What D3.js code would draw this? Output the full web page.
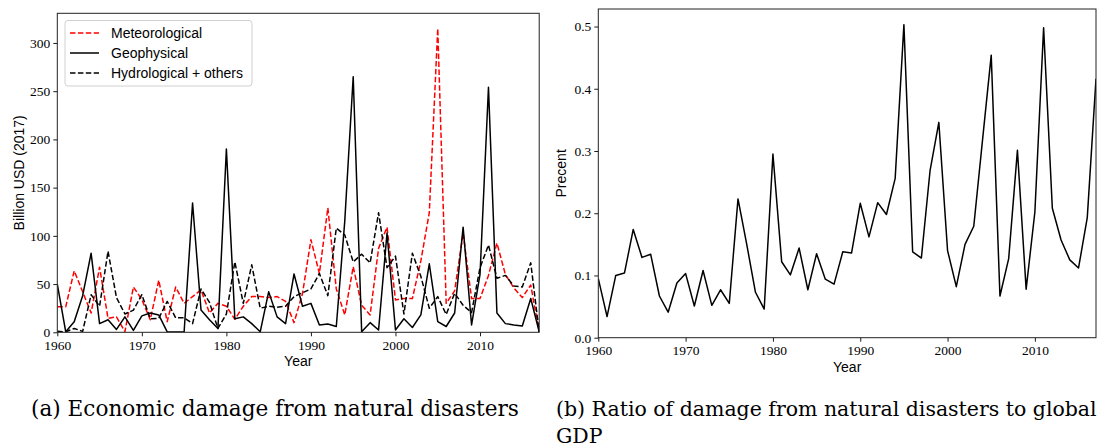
<!DOCTYPE html>
<html>
<head>
<meta charset="utf-8">
<script src="https://cdn.jsdelivr.net/npm/d3@7/dist/d3.min.js"></script>
<style>
  html, body { margin: 0; padding: 0; background: #fff; }
  svg { display: block; }
  .label { font-family: "Liberation Sans", Arial, sans-serif; font-size: 14px; fill: #000; }
  .caption { font-family: "DejaVu Serif", serif; font-size: 20px; fill: #000; }
</style>
</head>
<body>
<svg id="fig" width="1103" height="447"></svg>
<script>
// Annual economic damage by disaster type, billion USD (2017)
const years = d3.range(1960, 2018);
const meteorological = [26.6, 26.6, 63.7, 42, 20, 67.5, 14.5, 16, 0.6, 47,
  34, 13, 54, 11, 47, 30, 37, 44, 20, 30,
  27, 13.5, 27, 37, 37, 36, 37, 32, 10, 40,
  96, 61, 129, 45, 18, 68, 28, 18, 87, 109,
  33.6, 35, 35, 74, 124, 315, 30, 43, 103, 35,
  35, 59, 92.5, 60, 46, 36, 49, 0];
const geophysical = [50, 0.5, 11, 38, 82, 9, 13, 3, 16, 2,
  17, 20, 18, 0.5, 0.3, 0.3, 134, 23, 13, 4,
  190, 14, 16, 9, 0.5, 42, 16, 9, 60.5, 27,
  30, 7.6, 8.6, 6, 115, 265, 0.6, 10, 2.4, 103,
  2.4, 14, 5, 18, 71, 11, 6, 20, 109, 7.6,
  60, 254, 20, 9, 7.6, 6.5, 35, 0.5];
const hydrological = [1, 0.5, 4, 1, 39, 27, 84, 36, 19, 23,
  39, 14, 14.5, 32, 15, 15, 9, 45, 31, 4,
  19, 73, 30, 70, 25, 27, 26, 27, 37, 41,
  45, 61, 38, 108, 101, 73, 81, 72, 124, 67,
  79, 19, 82, 58, 25, 37, 18.5, 40.5, 28, 20.5,
  67, 90.5, 56, 59, 48, 47, 72, 0];
// Damage as a share of global GDP, percent
const gdpRatio = [0.095, 0.034, 0.100, 0.104, 0.174, 0.129, 0.134, 0.067, 0.041, 0.088,
  0.103, 0.051, 0.108, 0.052, 0.077, 0.055, 0.223, 0.150, 0.073, 0.046,
  0.295, 0.122, 0.101, 0.144, 0.077, 0.135, 0.094, 0.086, 0.138, 0.136,
  0.216, 0.162, 0.217, 0.198, 0.256, 0.503, 0.138, 0.128, 0.269, 0.346,
  0.140, 0.082, 0.150, 0.179, 0.317, 0.454, 0.067, 0.127, 0.301, 0.078,
  0.202, 0.498, 0.208, 0.157, 0.125, 0.112, 0.193, 0.416];

const yearTicks = [1960, 1970, 1980, 1990, 2000, 2010];
const damageTicks = [0, 50, 100, 150, 200, 250, 300];
const ratioTicks = [0, 0.1, 0.2, 0.3, 0.4, 0.5];

const seriesA = [
  { name: "Meteorological", values: meteorological, color: "#ff0000", dash: "5.5,2.4" },
  { name: "Geophysical", values: geophysical, color: "#000000", dash: null },
  { name: "Hydrological + others", values: hydrological, color: "#000000", dash: "5.5,2.4" }
];

const svg = d3.select("#fig");

function panel(box, yMax, yTicks, yFmt, yLabel, labelX) {
  const x = d3.scaleLinear().domain([1960, 2017]).range([box.left, box.right]);
  const y = d3.scaleLinear().domain([0, yMax]).range([box.bottom, box.top]);
  const g = svg.append("g");

  g.append("g")
    .attr("transform", `translate(0,${box.bottom})`)
    .call(d3.axisBottom(x).tickValues(yearTicks).tickFormat(d3.format("d")).tickSize(4).tickPadding(4))
    .call(a => a.select(".domain").remove());
  g.append("g")
    .attr("transform", `translate(${box.left},0)`)
    .call(d3.axisLeft(y).tickValues(yTicks).tickFormat(yFmt).tickSize(4).tickPadding(3))
    .call(a => a.select(".domain").remove());
  g.selectAll(".tick line").attr("stroke", "#000").attr("stroke-width", 0.9);
  g.selectAll(".tick text")
    .style("font-family", '"Liberation Serif", serif').style("font-size", "13.5px").attr("fill", "#000");

  g.append("text").attr("class", "label")
    .attr("x", (box.left + box.right) / 2).attr("y", box.bottom + 34)
    .attr("text-anchor", "middle").text("Year");
  g.append("text").attr("class", "label")
    .attr("transform", `translate(${labelX},${(box.top + box.bottom) / 2}) rotate(-90)`)
    .attr("text-anchor", "middle").attr("dy", "0.35em").text(yLabel);

  const clipId = "clip" + Math.round(box.left);
  svg.append("clipPath").attr("id", clipId).append("rect")
    .attr("x", box.left).attr("y", box.top)
    .attr("width", box.right - box.left).attr("height", box.bottom - box.top);
  const plot = g.append("g").attr("clip-path", `url(#${clipId})`);

  g.append("rect")
    .attr("x", box.left).attr("y", box.top)
    .attr("width", box.right - box.left).attr("height", box.bottom - box.top)
    .attr("fill", "none").attr("stroke", "#222").attr("stroke-width", 1);
  return { x, y, g, plot };
}

// (a) damage by disaster type
const boxA = { left: 57.3, right: 539.2, top: 13.3, bottom: 332.3 };
const yMaxA = d3.max(seriesA, s => d3.max(s.values)) * 1.05;
const pA = panel(boxA, yMaxA, damageTicks, d3.format("d"), "Billion USD (2017)", 19);
const lineA = d3.line().x((d, i) => pA.x(years[i])).y(d => pA.y(d));
seriesA.forEach(s => {
  pA.plot.append("path").datum(s.values)
    .attr("d", lineA).attr("fill", "none")
    .attr("stroke", s.color).attr("stroke-width", 1.5)
    .attr("stroke-dasharray", s.dash)
    .attr("stroke-linejoin", "round");
});

// legend
const lg = pA.g.append("g");
lg.append("rect").attr("x", 65).attr("y", 20.5).attr("width", 187).attr("height", 65.5)
  .attr("rx", 3).attr("fill", "#fff").attr("fill-opacity", 0.8)
  .attr("stroke", "#d0d0d0").attr("stroke-width", 1);
seriesA.forEach((s, i) => {
  const yy = 33 + i * 20;
  lg.append("line").attr("x1", 70).attr("x2", 99).attr("y1", yy).attr("y2", yy)
    .attr("stroke", s.color).attr("stroke-width", 1.5).attr("stroke-dasharray", s.dash);
  lg.append("text").attr("class", "label").attr("x", 111).attr("y", yy)
    .attr("dy", "0.35em").text(s.name);
});

// (b) ratio to global GDP
const boxB = { left: 598.3, right: 1096, top: 9, bottom: 337.7 };
const yMaxB = d3.max(gdpRatio) * 1.05;
const pB = panel(boxB, yMaxB, ratioTicks, d3.format(".1f"), "Precent", 561);
pB.plot.append("path").datum(gdpRatio)
  .attr("d", d3.line().x((d, i) => pB.x(years[i])).y(d => pB.y(d)))
  .attr("fill", "none").attr("stroke", "#000").attr("stroke-width", 1.5)
  .attr("stroke-linejoin", "round");

// captions, sized to their column widths
function caption(lines, x, y0, width) {
  const t = svg.append("text").attr("class", "caption");
  lines.forEach((s, i) => {
    t.append("tspan").attr("x", x).attr("y", y0 + i * 27).text(s);
  });
  const w = t.select("tspan").node().getComputedTextLength();
  t.style("font-size", (20 * width / w) + "px");
}
caption(["(a) Economic damage from natural disasters"], 31, 416, 488);
caption(["(b) Ratio of damage from natural disasters to global", "GDP"], 556, 416, 541);
</script>
</body>
</html>
